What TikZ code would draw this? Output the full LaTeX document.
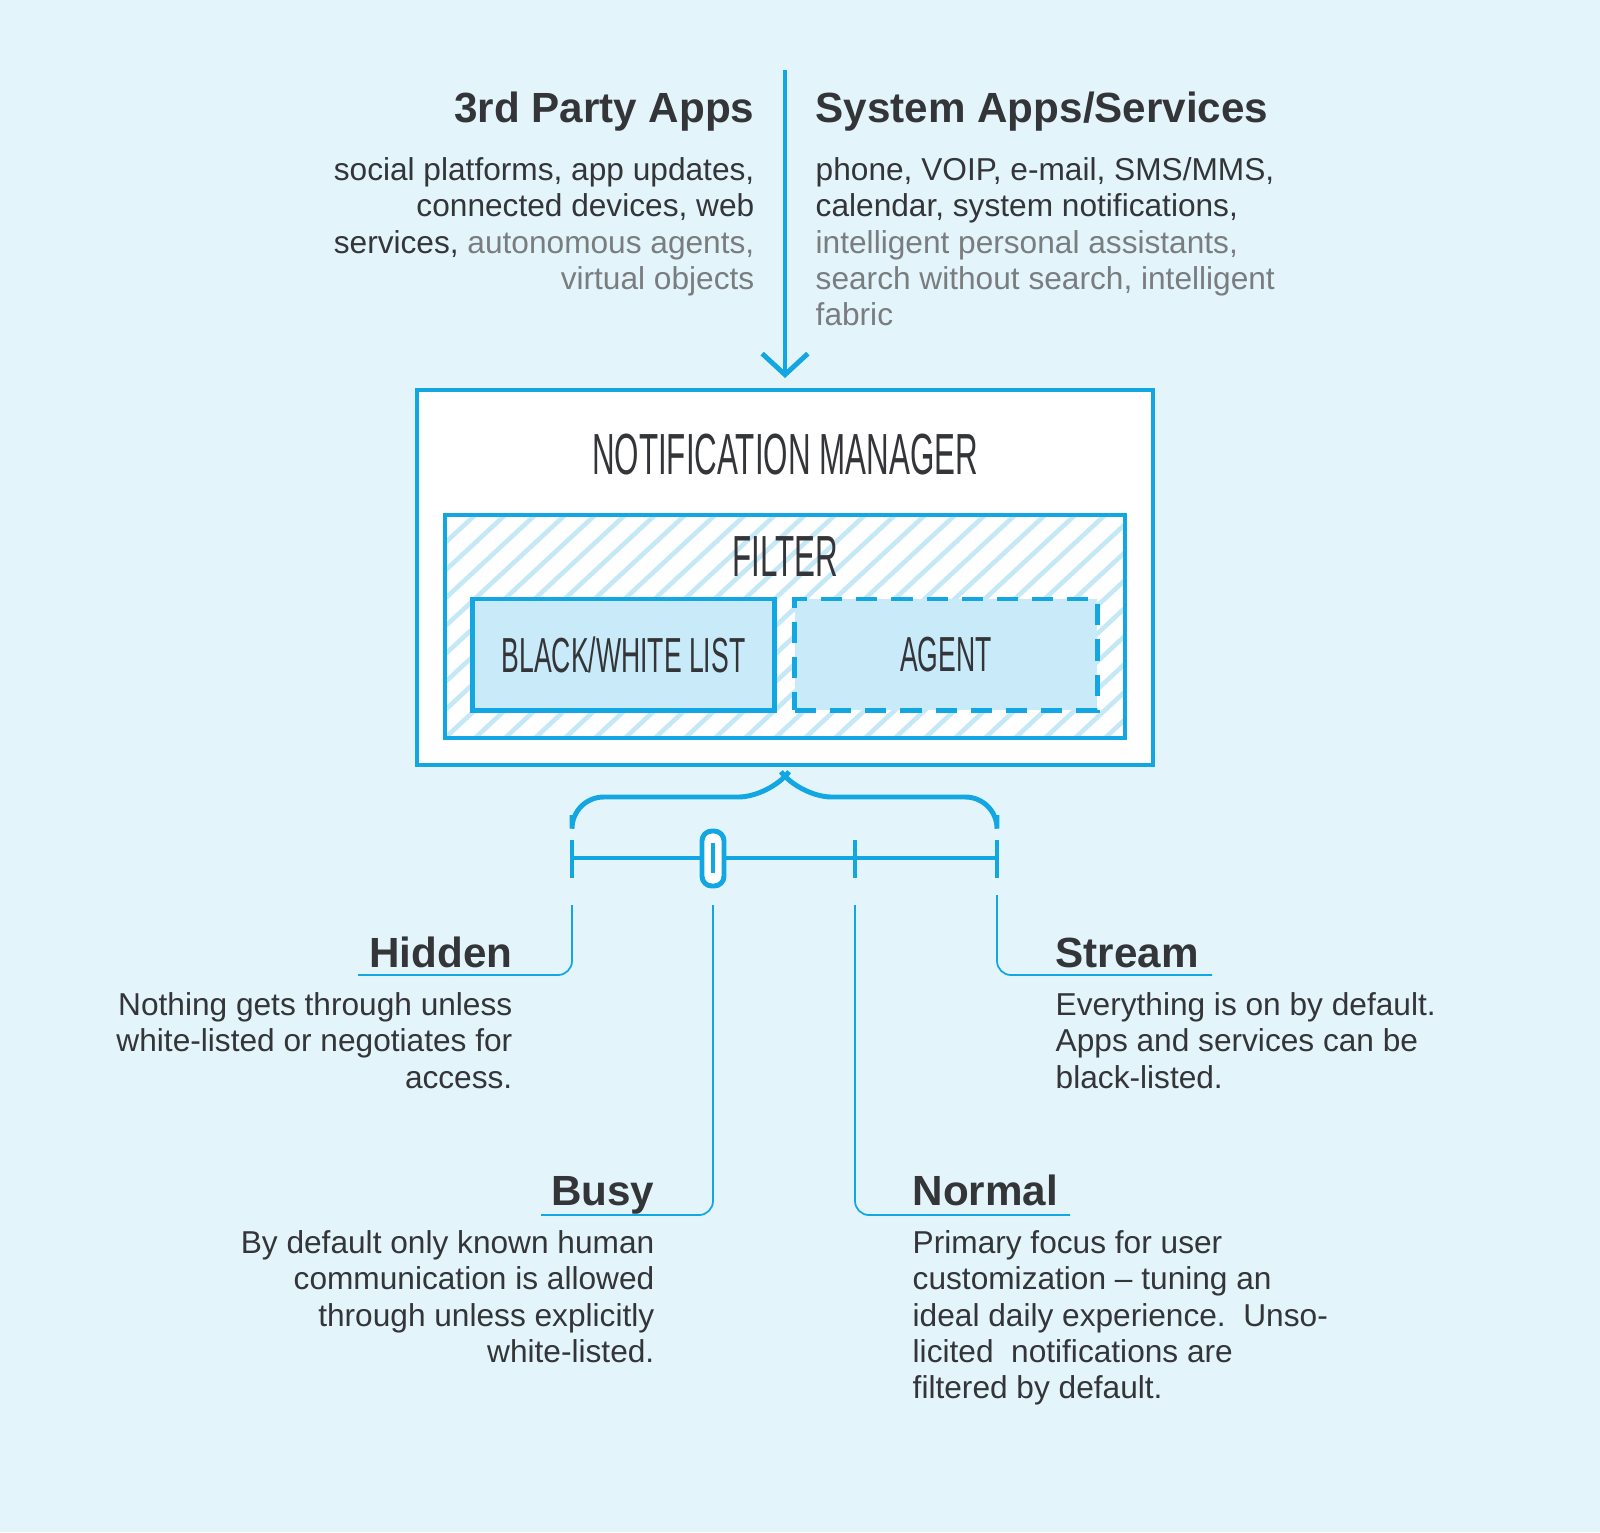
\documentclass[tikz,border=0pt]{standalone}
\usepackage{fontspec}
\setmainfont{Liberation Sans}
\newfontfamily\condfont[FakeStretch=0.54]{Liberation Sans}
\usetikzlibrary{positioning,arrows.meta}
\definecolor{bgblue}{HTML}{E3F5FB}
\definecolor{lineblue}{HTML}{12A6E2}
\definecolor{fillblue}{HTML}{C9EAF8}
\definecolor{hatch}{HTML}{C4E8F6}
\definecolor{ink}{HTML}{333538}
\definecolor{soft}{HTML}{7A7D80}
\begin{document}
\begin{tikzpicture}[x=0.01cm,y=-0.01cm,
  head/.style={font=\bfseries\fontsize{12}{14}\selectfont, text=ink, inner sep=0pt},
  body/.style={font=\fontsize{9}{10.3}\selectfont, text=ink, inner sep=0pt, align=#1},
  title/.style={font=\condfont\fontsize{16.5}{18}\selectfont, text=ink, inner sep=0pt},
  blue line/.style={draw=lineblue, line width=1.4pt},
  thin line/.style={draw=lineblue, line width=0.5pt, rounded corners=4pt}]
\fill[bgblue] (0,0) rectangle (1600,1532);
% sources
\node[head, anchor=base east] (third) at (755,122) {3rd Party Apps};
\node[head, anchor=base west] (sys) at (815,122) {System Apps/Services};
\node[body=right, anchor=north east] (thirdtxt) at (755,157) {social platforms, app updates,\\connected devices, web\\services, \textcolor{soft}{autonomous agents,}\\\textcolor{soft}{virtual objects}};
\node[body=left, anchor=north west] (systxt) at (815,157) {phone, VOIP, e-mail, SMS/MMS,\\calendar, system notifications,\\\textcolor{soft}{intelligent personal assistants,}\\\textcolor{soft}{search without search, intelligent}\\\textcolor{soft}{fabric}};
\coordinate (top) at (785,70);
% manager
\draw[blue line, fill=white] (417,390) rectangle (1153,765);
\node[title] (mgrlbl) at (785,455) {NOTIFICATION MANAGER};
\draw[blue line, -{Straight Barb[length=6pt,width=13pt]}] (top) -- (785,378);
% filter
\begin{scope}
\clip (445,515) rectangle (1125,738);
\foreach \i in {0,30,...,960}
  \draw[hatch, line width=1.3pt] (445+\i-240,738) -- (445+\i,515);
\end{scope}
\draw[blue line] (445,515) rectangle (1125,738);
\node[title] (filter) at (785,557) {FILTER};
\node[blue line, fill=fillblue, minimum width=3.01cm, minimum height=1.11cm,
  font=\condfont\fontsize{14}{16}\selectfont, text=ink] (bwlist) at (623.5,654.5) {BLACK/WHITE LIST};
\node[blue line, dashed, dash pattern=on 6pt off 4pt, fill=fillblue, minimum width=3.02cm, minimum height=1.11cm,
  font=\condfont\fontsize{14}{16}\selectfont, text=ink] (agent) at (946,654.5) {AGENT};
% brace
\draw[blue line, rounded corners=9pt] (572,815) -- (572,797) -- (770,797) -- (785,777);
\draw[blue line, rounded corners=9pt] (997,815) -- (997,797) -- (800,797) -- (785,777);
% slider
\draw[blue line] (572,858) -- (997,858);
\foreach \x in {572,855,997} \draw[blue line] (\x,840) -- (\x,878);
\draw[blue line, fill=white, rounded corners=2.8pt] (702,831) rectangle (724,886);
\draw[blue line] (713,843) -- (713,873);
% modes
\node[head, anchor=base east] (hidden) at (513,967) {Hidden};
\node[head, anchor=base east] (busy) at (655,1205) {Busy};
\node[head, anchor=base west] (normal) at (912,1205) {Normal};
\node[head, anchor=base west] (stream) at (1055,967) {Stream};
\draw[thin line] (572,905) -- (572,975) -- (358,975);
\draw[thin line] (713,905) -- (713,1215) -- (541,1215);
\draw[thin line] (855,905) -- (855,1215) -- (1070,1215);
\draw[thin line] (997,895) -- (997,975) -- (1212,975);
\node[body=right, anchor=north east] (hiddentxt) at (513,992) {Nothing gets through unless\\white-listed or negotiates for\\access.};
\node[body=right, anchor=north east] (busytxt) at (655,1230) {By default only known human\\communication is allowed\\through unless explicitly\\white-listed.};
\node[body=left, anchor=north west] (normaltxt) at (912,1230) {Primary focus for user\\customization -- tuning an\\ideal daily experience.\ \ Unso-\\licited\ \ notifications are\\filtered by default.};
\node[body=left, anchor=north west] (streamtxt) at (1055,992) {Everything is on by default.\\Apps and services can be\\black-listed.};
\end{tikzpicture}
\end{document}
